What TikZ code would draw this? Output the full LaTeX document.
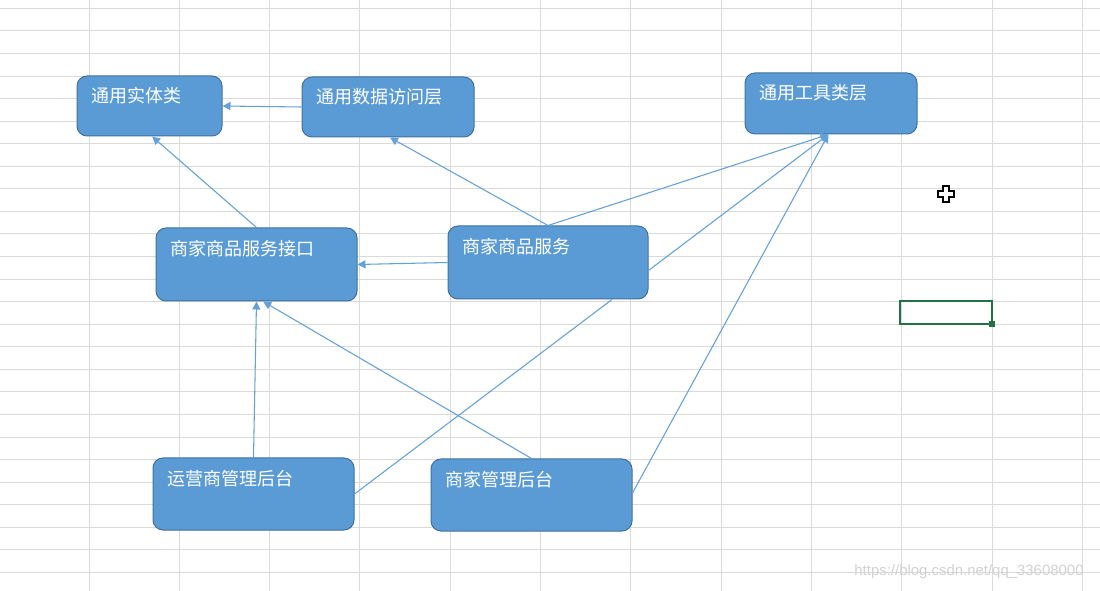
\documentclass[tikz,border=0pt]{standalone}
\usepackage{fontspec}
\usepackage{tikz}
\usetikzlibrary{arrows.meta}
\newfontfamily\cjk{Noto Sans CJK SC}
\setsansfont{Liberation Sans}
\definecolor{boxfill}{RGB}{91,155,213}
\definecolor{boxline}{RGB}{65,113,156}
\definecolor{linkblue}{RGB}{100,160,218}
\definecolor{gridgray}{RGB}{218,218,218}
\definecolor{cellgreen}{RGB}{33,115,70}
\tikzset{
  box/.style={draw=boxline, fill=boxfill, line width=0.75pt, rounded corners=7.5pt, inner sep=0pt},
  boxtext/.style={anchor=west, inner sep=0pt, text=white, font=\cjk\fontsize{13.5}{16}\selectfont},
  link/.style={draw=linkblue, line width=0.8pt},
  arr/.style={link, -{Triangle[length=6pt,width=6pt]}}
}

\begin{document}
\begin{tikzpicture}[x=0.75pt,y=0.75pt,yscale=-1,xscale=1]
\useasboundingbox (0,0) rectangle (1100,591);
\fill[white] (0,0) rectangle (1100,591);

%Grid of the sheet
\foreach \i in {0,...,12}
  \draw[gridgray, line width=0.75pt] (-1.3+90.3*\i,0) -- (-1.3+90.3*\i,591);
\foreach \j in {0,...,25}
  \draw[gridgray, line width=0.75pt] (0,8.3+22.57*\j) -- (1100,8.3+22.57*\j);

%Selected cell
\draw[cellgreen, line width=1.5pt] (900,301) rectangle (992,324);
\fill[cellgreen] (989,321) rectangle (995,327);

%Cursor
\draw[black, fill=white, line width=1.2pt] (943,186) -- (949,186) -- (949,191) -- (954,191) -- (954,197) -- (949,197) -- (949,202) -- (943,202) -- (943,197) -- (938,197) -- (938,191) -- (943,191) -- cycle;

%Shape: Rectangle
\node[box, minimum width=108.75pt, minimum height=45pt] (ent) at (149.5,106) {};
%Shape: Rectangle
\node[box, minimum width=129pt, minimum height=45pt] (dao) at (388,107) {};
%Shape: Rectangle
\node[box, minimum width=129pt, minimum height=45.75pt] (util) at (831,103.5) {};
%Shape: Rectangle
\node[box, minimum width=150.75pt, minimum height=54.75pt] (api) at (256.5,264.5) {};
%Shape: Rectangle
\node[box, minimum width=150pt, minimum height=54.75pt] (svc) at (548,262.5) {};
%Shape: Rectangle
\node[box, minimum width=150.75pt, minimum height=54pt] (ops) at (253.5,494) {};
%Shape: Rectangle
\node[box, minimum width=150.75pt, minimum height=54pt] (shop) at (531.5,495) {};

% Text Node
\node[boxtext] (entT) at ([xshift=11.25pt,yshift=15pt]ent.north west) {通用实体类};
% Text Node
\node[boxtext] (daoT) at ([xshift=11.25pt,yshift=15pt]dao.north west) {通用数据访问层};
% Text Node
\node[boxtext] (utilT) at ([xshift=11.25pt,yshift=15pt]util.north west) {通用工具类层};
% Text Node
\node[boxtext] (apiT) at ([xshift=11.25pt,yshift=16pt]api.north west) {商家商品服务接口};
% Text Node
\node[boxtext] (svcT) at ([xshift=11.25pt,yshift=16pt]svc.north west) {商家商品服务};
% Text Node
\node[boxtext] (opsT) at ([xshift=11.25pt,yshift=16pt]ops.north west) {运营商管理后台};
% Text Node
\node[boxtext] (shopT) at ([xshift=11.25pt,yshift=16pt]shop.north west) {商家管理后台};

%Straight Lines
\draw[arr] (dao.west) -- (ent.east);
\draw[arr] (api.north) -- ([xshift=2pt]ent.south);
\draw[arr] (svc.north) -- ([xshift=1.5pt]dao.south);
\draw[arr] (svc.north) -- ([xshift=-2pt]util.south);
\draw[arr] (svc.west) -- (api.east);
\draw[arr] ([yshift=6pt]svc.east) -- ([xshift=-2pt]util.south);
\draw[link] ([xshift=48pt]svc.south) -- (ops.east);
\draw[arr] (ops.north) -- (api.south);
\draw[arr] (shop.north) -- ([xshift=5pt]api.south);
\draw[arr] ([yshift=-1.5pt]shop.east) -- ([xshift=-2pt]util.south);

% Text Node
\node[text=gray!35, font=\sffamily\fontsize{11.2}{13}\selectfont, inner sep=0pt] (mark) at (969,572) {https://blog.csdn.net/qq\_33608000};

\end{tikzpicture}
\end{document}
